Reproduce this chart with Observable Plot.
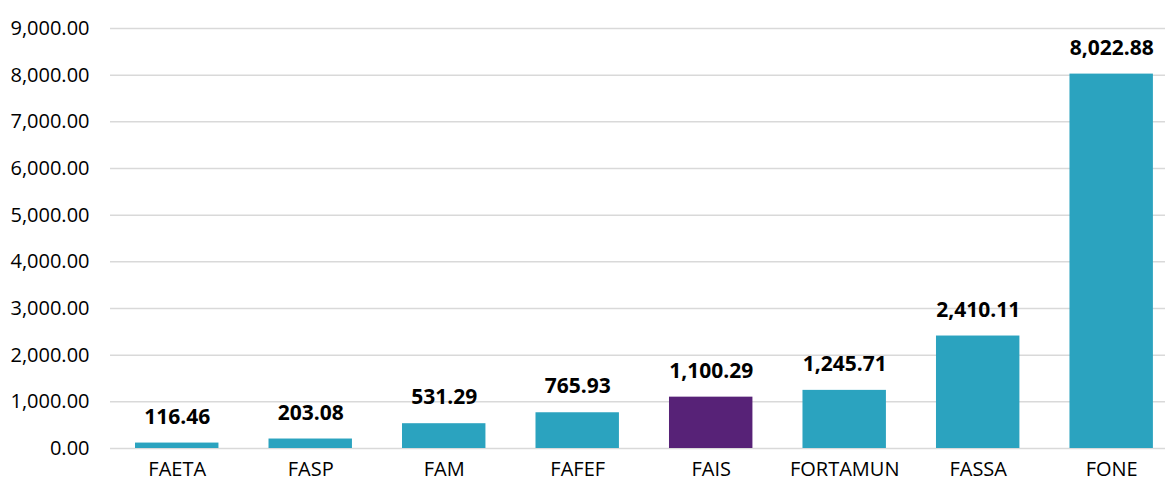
<!DOCTYPE html>
<html>
<head>
<meta charset="utf-8">
<script src="https://cdn.jsdelivr.net/npm/d3@7"></script>
<script src="https://cdn.jsdelivr.net/npm/@observablehq/plot@0.6"></script>
<style>
  html, body { margin: 0; padding: 0; background: #fff; }
  #chart { width: 1165px; height: 482px; }
</style>
</head>
<body>
<div id="chart"></div>
<script>
const categories = ["FAETA", "FASP", "FAM", "FAFEF", "FAIS", "FORTAMUN", "FASSA", "FONE"];
const values = [116.46, 203.08, 531.29, 765.93, 1100.29, 1245.71, 2410.11, 8022.88];
const highlight = "FAIS";
const yTicks = [0, 1000, 2000, 3000, 4000, 5000, 6000, 7000, 8000, 9000];

const data = categories.map((c, i) => ({category: c, value: values[i]}));
const fmt = d3.format(",.2f");

const chart = Plot.plot({
  width: 1165,
  height: 482,
  marginLeft: 110,
  marginRight: 0,
  marginTop: 28,
  marginBottom: 34,
  style: {fontFamily: "'Open Sans', sans-serif", fontSize: "20px", color: "#000", background: "#fff"},
  x: {domain: categories, paddingInner: 0.375, paddingOuter: 0.139, align: 0.674, round: false, label: null},
  y: {domain: [0, 9000], label: null},
  marks: [
    Plot.ruleY(yTicks, {stroke: "#d9d9d9", strokeWidth: 1.5}),
    Plot.barY(data, {x: "category", y: "value", fill: d => d.category === highlight ? "#572277" : "#2BA3BF"}),
    Plot.text(data, {x: "category", y: "value", text: d => fmt(d.value), dy: -26, fontWeight: "bold", fontSize: 21, fill: "#000"}),
    Plot.axisY(yTicks, {tickSize: 0, tickPadding: 21, tickFormat: fmt, fontSize: 20, fill: "#000", label: null}),
    Plot.axisX({tickSize: 0, tickPadding: 13, fontSize: 20, fill: "#000", label: null})
  ]
});
document.getElementById("chart").appendChild(chart);
</script>
</body>
</html>
